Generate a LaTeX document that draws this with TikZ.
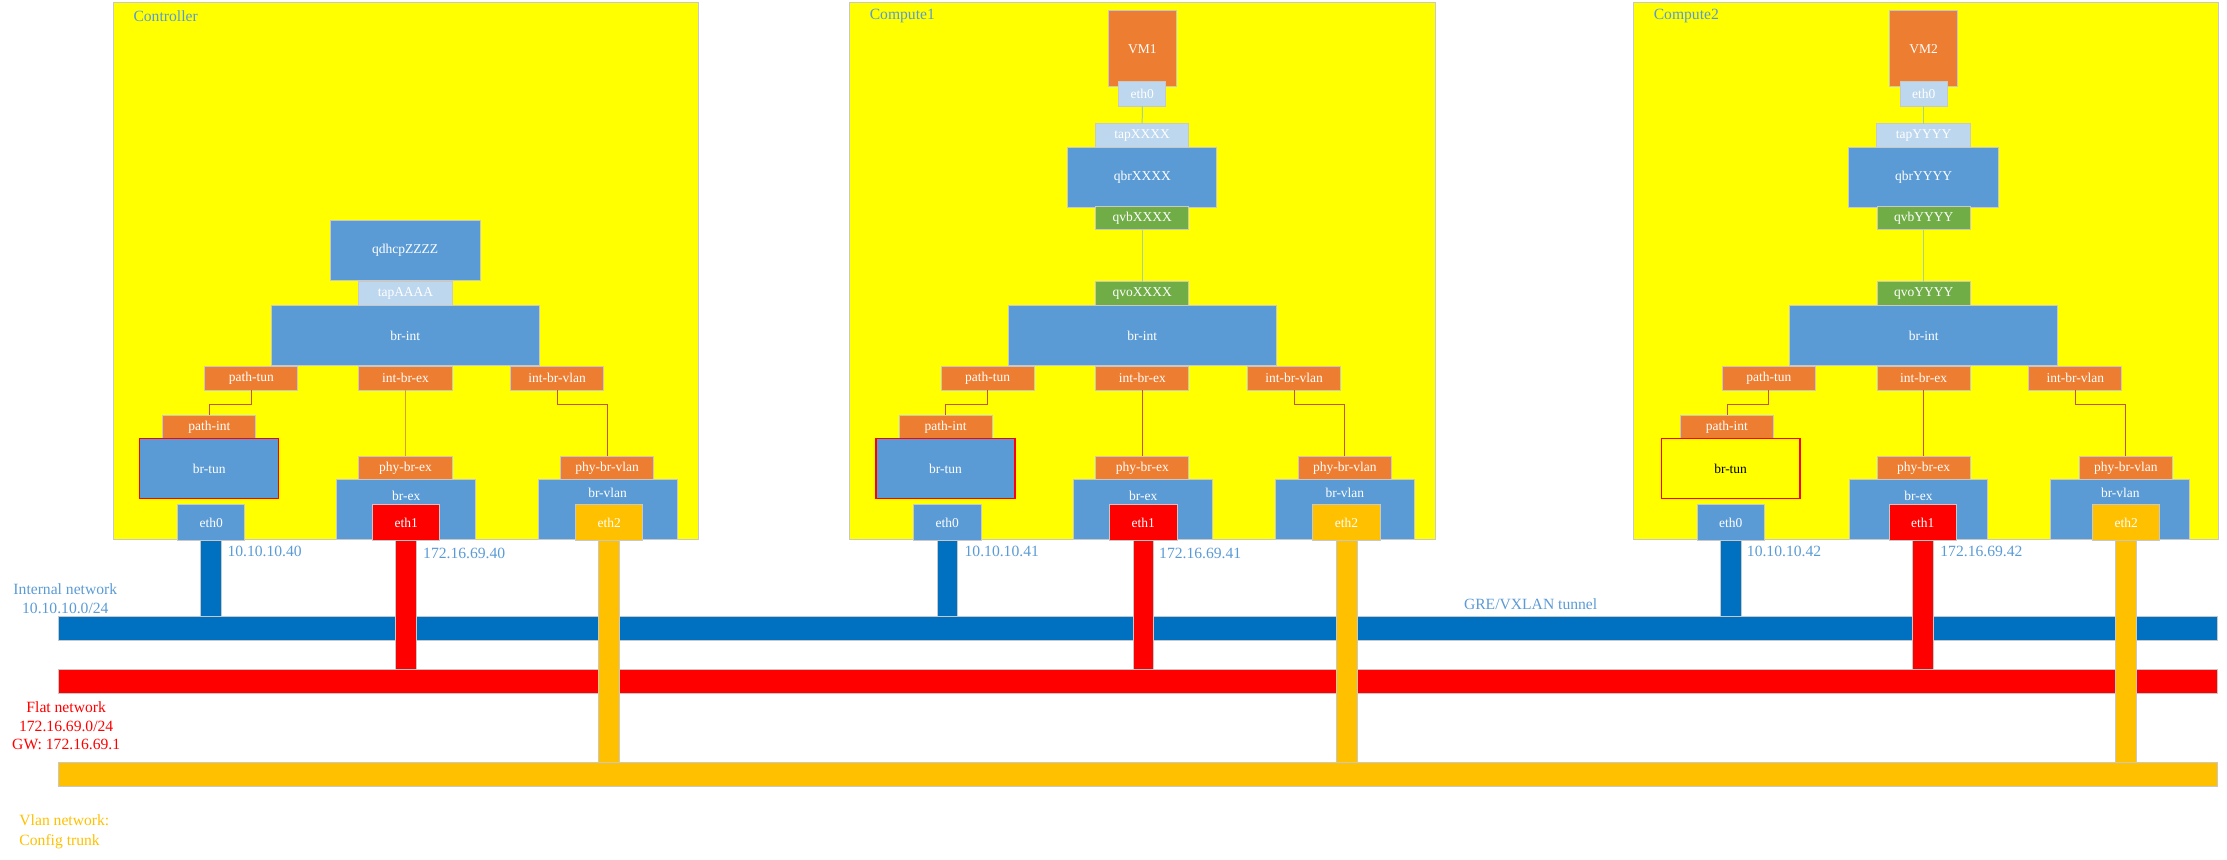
\documentclass[tikz,border=0pt]{standalone}
\usepackage{fontspec}
\setmainfont{Liberation Serif}
\usetikzlibrary{calc}
\definecolor{cBlue}{HTML}{5B9BD5}
\definecolor{cOrange}{HTML}{ED7D31}
\definecolor{cLight}{HTML}{BDD7EE}
\definecolor{cGreen}{HTML}{70AD47}
\definecolor{cRed}{HTML}{FF0000}
\definecolor{cGold}{HTML}{FFC000}
\definecolor{cNet}{HTML}{0070C0}
\definecolor{cHost}{HTML}{FFFF00}
\definecolor{cEdge}{HTML}{C8C8C8}
\definecolor{cWire}{HTML}{C8522E}
\definecolor{cGoldWire}{HTML}{D9A020}
\definecolor{cGWire}{HTML}{A9D18E}
\definecolor{cLbl}{HTML}{5B9BD5}
\newcommand{\nfs}{\fontsize{9.5}{11}\selectfont}
\newcommand{\lfs}{\fontsize{11}{13}\selectfont}
\newcommand{\vfs}{\fontsize{11}{14}\selectfont}
\begin{document}
\begin{tikzpicture}[x=1pt,y=-1pt,
  box/.style={draw=cEdge, line width=0.7pt, inner sep=0pt, outer sep=0pt, font=\nfs, text=white},
  bigbox/.style={box, fill=cBlue, minimum width=105.6, minimum height=42},
  intbox/.style={box, fill=cBlue, minimum width=189, minimum height=42.4},
  portbox/.style={box, fill=cOrange, minimum width=65.6, minimum height=16.6},
  tapbox/.style={box, fill=cLight, minimum width=65.8, minimum height=16.8},
  vethbox/.style={box, fill=cGreen, minimum width=65.6, minimum height=16.6},
  brbox/.style={box, fill=cBlue, minimum width=97.8, minimum height=42.3},
  tunbox/.style={brbox, draw=cRed, line width=0.9pt},
  ethbox/.style={box, minimum width=47.4, minimum height=25.5},
  vmbox/.style={box, fill=cOrange, minimum width=48, minimum height=53.3},
  vmeth/.style={box, fill=cLight, minimum width=33, minimum height=17},
  brlbl/.style={font=\nfs, text=white, inner sep=0pt},
  hostbox/.style={draw=cEdge, line width=0.7pt, fill=cHost, inner sep=0pt, outer sep=0pt, minimum width=412, minimum height=378, anchor=north west},
  hostlbl/.style={font=\lfs, text=cLbl, anchor=west, inner sep=0pt},
  wire/.style={draw=cWire, line width=0.6pt},
  goldwire/.style={draw=cGoldWire, line width=0.7pt},
  gwire/.style={draw=cGWire, line width=0.7pt},
  netbar/.style={draw=cEdge, line width=0.6pt, inner sep=0pt, outer sep=0pt, minimum height=17.3, minimum width=1519.8, anchor=north west},
  dropbar/.style={draw=cEdge, line width=0.6pt},
  iplbl/.style={font=\lfs, text=cLbl, anchor=west, inner sep=0pt},
]
\useasboundingbox (0,0) rectangle (1568,605.5);

% ---------- hosts ----------
\node[hostbox] (ctl) at (80,2) {};
\node[hostbox, minimum width=412.5] (cp1) at (598,2) {};
\node[hostbox] (cp2) at (1150,2) {};
\node[hostlbl] (ctlL) at (93.8,11.5) {Controller};
\node[hostlbl] (cp1L) at (612.2,11.5) {Compute1};
\node[hostlbl] (cp2L) at (1164.2,11.5) {Compute2};

% ---------- Controller ----------
\node[bigbox] (cqd) at (285.3,176.3) {qdhcpZZZZ};
\node[tapbox] (ctap) at (285.5,206.7) {tapAAAA};
\node[intbox] (cint) at (285.4,236.4) {br-int};
\node[portbox] (cpt) at (177,266.3) {path-tun};
\node[portbox] (cpe) at (285.5,266.3) {int-br-ex};
\node[portbox] (cpv) at (392.2,266.3) {int-br-vlan};
\node[portbox] (cpi) at (147.4,300.6) {path-int};
\node[tunbox] (ctun) at (147.3,329.8) {br-tun};
\node[ethbox, fill=cBlue] (ce0) at (148.7,368) {eth0};
\node[portbox] (cpx) at (285.5,329.5) {phy-br-ex};
\node[brbox, minimum height=42.1] (cex) at (286,359) {};
\node[brlbl] (cexL) at (286,349.2) {br-ex};
\node[ethbox, fill=cRed] (ce1) at (286,368) {eth1};
\node[portbox] (cpy) at (427.5,329.5) {phy-br-vlan};
\node[brbox, minimum height=42.1] (cvl) at (427.8,359) {};
\node[brlbl] (cvlL) at (427.8,347.2) {br-vlan};
\node[ethbox, fill=cGold] (ce2) at (429,368) {eth2};
\draw[wire] (cpt.south) -- ++(0,10.1) -| (cpi.north);
\draw[goldwire] (cpe.south) -- (cpx.north);
\draw[wire] (cpv.south) -- ++(0,10.1) -| (cpy.north);

% ---------- Compute1 ----------
\node[vmbox] (avm) at (804.3,34.3) {VM1};
\node[vmeth] (avme) at (804.3,66.2) {eth0};
\node[tapbox] (atap) at (804.2,95.5) {tapXXXX};
\node[bigbox, minimum width=105] (aqbr) at (804.3,124.8) {qbrXXXX};
\node[vethbox] (aqvb) at (804.3,153.4) {qvbXXXX};
\node[vethbox] (aqvo) at (804.3,206.6) {qvoXXXX};
\node[intbox] (aint) at (804.3,236.3) {br-int};
\node[portbox] (apt) at (695.4,266.3) {path-tun};
\node[portbox] (ape) at (804.3,266.3) {int-br-ex};
\node[portbox] (apv) at (911.1,266.3) {int-br-vlan};
\node[portbox] (api) at (665.8,300.6) {path-int};
\node[tunbox] (atun) at (665.7,329.8) {br-tun};
\node[ethbox, fill=cBlue] (ae0) at (667,368) {eth0};
\node[portbox] (apx) at (804.3,329.5) {phy-br-ex};
\node[brbox, minimum height=42.1] (aex) at (804.9,359) {};
\node[brlbl] (aexL) at (804.9,349.2) {br-ex};
\node[ethbox, fill=cRed] (ae1) at (805,368) {eth1};
\node[portbox] (apy) at (946.9,329.5) {phy-br-vlan};
\node[brbox, minimum height=42.1] (avl) at (946.9,359) {};
\node[brlbl] (avlL) at (946.9,347.2) {br-vlan};
\node[ethbox, fill=cGold] (ae2) at (948,368) {eth2};
\draw[gwire] (avme.south) -- (atap.north);
\draw[gwire] (aqvb.south) -- (aqvo.north);
\draw[wire] (apt.south) -- ++(0,10.1) -| (api.north);
\draw[wire] (ape.south) -- (apx.north);
\draw[wire] (apv.south) -- ++(0,10.1) -| (apy.north);

% ---------- Compute2 ----------
\node[vmbox] (bvm) at (1354.3,34.3) {VM2};
\node[vmeth] (bvme) at (1354.4,66.2) {eth0};
\node[tapbox] (btap) at (1354.4,95.5) {tapYYYY};
\node[bigbox, minimum width=105.8] (bqbr) at (1354.4,124.8) {qbrYYYY};
\node[vethbox] (bqvb) at (1354.4,153.4) {qvbYYYY};
\node[vethbox] (bqvo) at (1354.4,206.6) {qvoYYYY};
\node[intbox] (bint) at (1354.4,236.3) {br-int};
\node[portbox] (bpt) at (1245.4,266.3) {path-tun};
\node[portbox] (bpe) at (1354.4,266.3) {int-br-ex};
\node[portbox] (bpv) at (1461.2,266.3) {int-br-vlan};
\node[portbox] (bpi) at (1215.9,300.6) {path-int};
\node[tunbox, fill=cHost, text=black] (btun) at (1218.5,329.8) {br-tun};
\node[ethbox, fill=cBlue] (be0) at (1218.6,368) {eth0};
\node[portbox] (bpx) at (1354.4,329.5) {phy-br-ex};
\node[brbox, minimum height=42.1] (bex) at (1350.8,359) {};
\node[brlbl] (bexL) at (1350.8,349.2) {br-ex};
\node[ethbox, fill=cRed] (be1) at (1353.8,368) {eth1};
\node[portbox] (bpy) at (1496.8,329.5) {phy-br-vlan};
\node[brbox, minimum height=42.1] (bvl) at (1492.9,359) {};
\node[brlbl] (bvlL) at (1492.9,347.2) {br-vlan};
\node[ethbox, fill=cGold] (be2) at (1497,368) {eth2};
\draw[gwire] (bvme.south) -- (btap.north);
\draw[gwire] (bqvb.south) -- (bqvo.north);
\draw[wire] (bpt.south) -- ++(0,10.1) -| (bpi.north);
\draw[wire] (bpe.south) -- (bpx.north);
\draw[wire] (bpv.south) -- ++(0,10.1) -| (bpy.north);

% ---------- networks ----------
\node[netbar, fill=cNet] (nInt) at (41.2,433.7) {};
\node[netbar, fill=cRed] (nFlat) at (41.2,471) {};
\node[netbar, fill=cGold] (nVlan) at (41.2,536.5) {};

% blue drops
\foreach \e in {ce0,ae0,be0}{
  \draw[dropbar, fill=cNet] ($(\e.south)+(-7.3,0)$) rectangle ($(\e.south |- nInt.north)+(7.3,0)$);
}
% red drops
\foreach \e in {ce1,ae1,be1}{
  \draw[dropbar, fill=cRed] ($(\e.south)+(-7.3,0)$) rectangle ($(\e.south |- nFlat.north)+(7.3,0)$);
}
% yellow drops
\foreach \e in {ce2,ae2,be2}{
  \draw[dropbar, fill=cGold] ($(\e.south)+(-7.4,0)$) rectangle ($(\e.south |- nVlan.north)+(7.4,0)$);
}

% ip labels
\node[iplbl] (ipc0) at (160,388) {10.10.10.40};
\node[iplbl] (ipc1) at (297.8,389.7) {172.16.69.40};
\node[iplbl] (ipa0) at (679,388) {10.10.10.41};
\node[iplbl] (ipa1) at (816,389.7) {172.16.69.41};
\node[iplbl] (ipb0) at (1229.8,388) {10.10.10.42};
\node[iplbl] (ipb1) at (1366,388.5) {172.16.69.42};

% network labels
\node[font=\lfs, text=cLbl, align=center, inner sep=0pt] (lInt) at (46,421.5) {Internal network\\10.10.10.0/24};
\node[font=\lfs, text=cRed, align=center, inner sep=0pt] (lFlat) at (46.6,511.2) {Flat network\\172.16.69.0/24\\GW: 172.16.69.1};
\node[font=\vfs, text=cGold, align=left, anchor=west, inner sep=0pt] (lVlan) at (13.5,585.6) {Vlan network:\\Config trunk};
\node[iplbl] (lGre) at (1030.6,425.6) {GRE/VXLAN tunnel};
\end{tikzpicture}
\end{document}
